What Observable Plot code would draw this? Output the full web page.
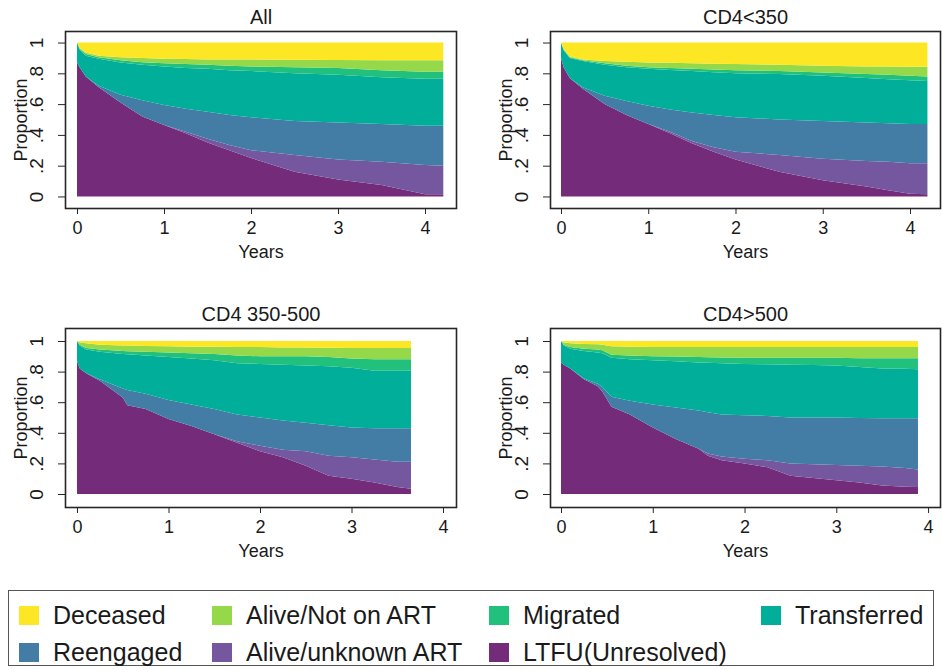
<!DOCTYPE html>
<html>
<head>
<meta charset="utf-8">
<script src="https://cdn.jsdelivr.net/npm/d3@7"></script>
<script src="https://cdn.jsdelivr.net/npm/@observablehq/plot@0.6"></script>
<style>
  html, body { margin: 0; padding: 0; background: #fff; }
  #wrap { position: relative; width: 943px; height: 670px; overflow: hidden; font-family: "Liberation Sans", Arial, sans-serif; color: #1a1a1a; }
  .panel { position: absolute; }
  #legend { position: absolute; left: 8px; top: 590px; width: 926px; height: 76px; border: 1px solid #555; box-sizing: border-box; }
  .item { position: absolute; display: flex; align-items: center; font-size: 25px; line-height: 1; white-space: nowrap; }
  .sw { width: 20px; height: 19px; margin-right: 14px; }
</style>
</head>
<body>
<div id="wrap">
  <div id="legend"></div>
</div>
<script>
// ---- states (legend order) and colours ----
const states = ["Deceased", "Alive/Not on ART", "Migrated", "Transferred", "Reengaged", "Alive/unknown ART", "LTFU(Unresolved)"];
const colors = ["#fde725", "#95d84a", "#22c07d", "#00ae9a", "#437da5", "#74579f", "#742b79"];
// stacking order, bottom to top
const stackOrder = ["LTFU(Unresolved)", "Alive/unknown ART", "Reengaged", "Transferred", "Migrated", "Alive/Not on ART", "Deceased"];

const xTicks = [0, 1, 2, 3, 4];
const yTicks = [0, 0.2, 0.4, 0.6, 0.8, 1];

// ---- data: years, and cumulative upper edge of each state (bottom to top: LTFU, Alive/unknown, Reengaged, Transferred, Migrated, Alive/Not on ART, Deceased) ----
const allYears = [0, 0.03, 0.1, 0.25, 0.5, 0.75, 1, 1.25, 1.5, 1.75, 2, 2.5, 3, 3.5, 4, 4.21];
const allUpper = [
  [0.87, 0.84, 0.78, 0.71, 0.61, 0.52, 0.465, 0.41, 0.35, 0.30, 0.25, 0.16, 0.11, 0.075, 0.015, 0.015],
  [0.87, 0.84, 0.78, 0.71, 0.61, 0.52, 0.465, 0.42, 0.375, 0.335, 0.30, 0.27, 0.24, 0.225, 0.205, 0.20],
  [0.87, 0.84, 0.78, 0.72, 0.66, 0.625, 0.595, 0.57, 0.55, 0.53, 0.515, 0.49, 0.48, 0.47, 0.46, 0.46],
  [1, 0.955, 0.915, 0.895, 0.87, 0.855, 0.845, 0.835, 0.83, 0.82, 0.815, 0.80, 0.79, 0.775, 0.765, 0.765],
  [1, 0.96, 0.925, 0.905, 0.885, 0.872, 0.865, 0.86, 0.855, 0.85, 0.845, 0.84, 0.835, 0.82, 0.81, 0.81],
  [1, 0.965, 0.935, 0.915, 0.905, 0.9, 0.895, 0.893, 0.89, 0.89, 0.89, 0.888, 0.886, 0.885, 0.885, 0.885],
  [1, 1, 1, 1, 1, 1, 1, 1, 1, 1, 1, 1, 1, 1, 1, 1]
];

const lowYears = [0, 0.03, 0.1, 0.25, 0.5, 0.75, 1, 1.25, 1.5, 1.75, 2, 2.5, 3, 3.5, 3.75, 4, 4.2];
const lowUpper = [
  [0.90, 0.84, 0.77, 0.70, 0.60, 0.53, 0.47, 0.41, 0.345, 0.29, 0.24, 0.16, 0.105, 0.065, 0.04, 0.017, 0.015],
  [0.90, 0.84, 0.77, 0.70, 0.60, 0.53, 0.47, 0.42, 0.36, 0.32, 0.29, 0.27, 0.245, 0.23, 0.225, 0.215, 0.215],
  [0.90, 0.84, 0.77, 0.71, 0.655, 0.62, 0.59, 0.565, 0.545, 0.53, 0.515, 0.50, 0.49, 0.48, 0.475, 0.47, 0.47],
  [1, 0.95, 0.90, 0.88, 0.855, 0.84, 0.83, 0.822, 0.815, 0.807, 0.80, 0.795, 0.785, 0.77, 0.762, 0.755, 0.75],
  [1, 0.955, 0.905, 0.885, 0.865, 0.85, 0.84, 0.835, 0.83, 0.825, 0.82, 0.815, 0.805, 0.795, 0.79, 0.785, 0.78],
  [1, 0.96, 0.91, 0.89, 0.88, 0.875, 0.87, 0.868, 0.865, 0.862, 0.86, 0.855, 0.85, 0.845, 0.844, 0.843, 0.843],
  [1, 1, 1, 1, 1, 1, 1, 1, 1, 1, 1, 1, 1, 1, 1, 1, 1]
];

const midYears = [0, 0.03, 0.1, 0.25, 0.5, 0.55, 0.75, 1, 1.25, 1.5, 1.75, 2, 2.25, 2.5, 2.75, 3, 3.25, 3.5, 3.65];
const midUpper = [
  [0.87, 0.82, 0.79, 0.74, 0.63, 0.58, 0.555, 0.49, 0.445, 0.39, 0.335, 0.28, 0.24, 0.185, 0.12, 0.10, 0.075, 0.045, 0.035],
  [0.87, 0.82, 0.79, 0.74, 0.63, 0.58, 0.555, 0.49, 0.445, 0.39, 0.345, 0.315, 0.29, 0.28, 0.25, 0.24, 0.225, 0.21, 0.21],
  [0.87, 0.82, 0.79, 0.75, 0.69, 0.68, 0.655, 0.615, 0.585, 0.555, 0.52, 0.50, 0.48, 0.465, 0.45, 0.435, 0.43, 0.43, 0.43],
  [1, 0.97, 0.945, 0.93, 0.915, 0.913, 0.905, 0.895, 0.885, 0.875, 0.855, 0.85, 0.845, 0.84, 0.835, 0.825, 0.805, 0.805, 0.805],
  [1, 0.975, 0.955, 0.945, 0.935, 0.933, 0.93, 0.925, 0.92, 0.915, 0.905, 0.90, 0.90, 0.90, 0.895, 0.885, 0.88, 0.88, 0.88],
  [1, 0.99, 0.985, 0.975, 0.97, 0.97, 0.968, 0.965, 0.963, 0.962, 0.96, 0.96, 0.958, 0.957, 0.956, 0.955, 0.955, 0.955, 0.955],
  [1, 1, 1, 1, 1, 1, 1, 1, 1, 1, 1, 1, 1, 1, 1, 1, 1, 1, 1]
];

const highYears = [0, 0.03, 0.1, 0.25, 0.4, 0.45, 0.55, 0.75, 1, 1.25, 1.5, 1.6, 1.75, 2, 2.25, 2.5, 2.75, 3, 3.25, 3.5, 3.75, 3.89];
const highUpper = [
  [0.86, 0.845, 0.82, 0.75, 0.705, 0.67, 0.57, 0.52, 0.435, 0.36, 0.295, 0.25, 0.22, 0.20, 0.175, 0.12, 0.105, 0.09, 0.075, 0.055, 0.048, 0.045],
  [0.86, 0.845, 0.82, 0.75, 0.705, 0.67, 0.57, 0.52, 0.435, 0.36, 0.295, 0.265, 0.245, 0.23, 0.22, 0.20, 0.195, 0.19, 0.185, 0.18, 0.17, 0.16],
  [0.86, 0.845, 0.82, 0.755, 0.72, 0.70, 0.635, 0.61, 0.585, 0.565, 0.545, 0.535, 0.52, 0.515, 0.51, 0.50, 0.50, 0.50, 0.497, 0.495, 0.495, 0.495],
  [1, 0.97, 0.95, 0.935, 0.925, 0.92, 0.89, 0.88, 0.875, 0.868, 0.86, 0.858, 0.855, 0.85, 0.848, 0.845, 0.843, 0.84, 0.83, 0.82, 0.818, 0.815],
  [1, 0.975, 0.96, 0.95, 0.945, 0.94, 0.91, 0.905, 0.90, 0.898, 0.895, 0.893, 0.892, 0.89, 0.89, 0.89, 0.89, 0.89, 0.888, 0.887, 0.887, 0.887],
  [1, 0.99, 0.985, 0.98, 0.978, 0.975, 0.965, 0.962, 0.96, 0.96, 0.96, 0.96, 0.96, 0.96, 0.96, 0.96, 0.96, 0.96, 0.96, 0.96, 0.96, 0.96],
  [1, 1, 1, 1, 1, 1, 1, 1, 1, 1, 1, 1, 1, 1, 1, 1, 1, 1, 1, 1, 1, 1]
];

const panels = [
  {title: "All", years: allYears, upper: allUpper, left: 0, top: 0, width: 470, mR: 14, mT: 31, mB: 62, xDom: [-0.138, 4.356], yDom: [-0.075, 1.075]},
  {title: "CD4<350", years: lowYears, upper: lowUpper, left: 485, top: 0, width: 458, mR: 3, mT: 31, mB: 62, xDom: [-0.126, 4.344], yDom: [-0.075, 1.075]},
  {title: "CD4 350-500", years: midYears, upper: midUpper, left: 0, top: 295, width: 470, mR: 14, mT: 33, mB: 58, xDom: [-0.131, 4.142], yDom: [-0.085, 1.085]},
  {title: "CD4>500", years: highYears, upper: highUpper, left: 485, top: 295, width: 458, mR: 3, mT: 33, mB: 58, xDom: [-0.12, 4.13], yDom: [-0.085, 1.085]}
];

const yFmt = d => d === 0 ? "0" : d === 1 ? "1" : d3.format(".1f")(d).replace(/^0/, "");

function buildRows(years, upper) {
  const rows = [];
  stackOrder.forEach((state, k) => {
    years.forEach((t, i) => {
      rows.push({t, state, lo: k === 0 ? 0 : upper[k - 1][i], hi: upper[k][i]});
    });
  });
  return rows;
}

const wrap = document.getElementById("wrap");
for (const p of panels) {
  const rows = buildRows(p.years, p.upper);
  const chart = Plot.plot({
    width: p.width,
    height: 270,
    marginLeft: 65,
    marginRight: p.mR,
    marginTop: p.mT,
    marginBottom: p.mB,
    style: {fontFamily: "'Liberation Sans', Arial, sans-serif", fontSize: "18px", color: "#1a1a1a", background: "transparent", overflow: "visible"},
    x: {domain: p.xDom},
    y: {domain: p.yDom},
    color: {domain: states, range: colors},
    marks: [
      Plot.areaY(rows, {x: "t", y1: "lo", y2: "hi", z: "state", fill: "state", curve: "linear"}),
      Plot.frame({stroke: "#262626", strokeWidth: 1.6}),
      Plot.axisX({ticks: xTicks, tickFormat: d => String(d), tickSize: 6, tickPadding: 7, label: null, stroke: "#262626", fontSize: 18}),
      Plot.axisY({ticks: yTicks, tickFormat: () => "", tickSize: 7, label: null, stroke: "#262626"}),
      Plot.text(yTicks, {y: d => d, text: yFmt, frameAnchor: "left", dx: -23, rotate: -90, textAnchor: "middle", lineAnchor: "bottom", fontSize: 19}),
      Plot.text(["Proportion"], {frameAnchor: "left", dx: -39, rotate: -90, textAnchor: "middle", lineAnchor: "bottom", fontSize: 18}),
      Plot.text(["Years"], {frameAnchor: "bottom", dy: 49, textAnchor: "middle", lineAnchor: "bottom", fontSize: 18}),
      Plot.text([p.title], {frameAnchor: "top", dy: -8, textAnchor: "middle", lineAnchor: "bottom", fontSize: 20})
    ]
  });
  const div = document.createElement("div");
  div.className = "panel";
  div.style.left = p.left + "px";
  div.style.top = p.top + "px";
  div.appendChild(chart);
  wrap.appendChild(div);
}

// ---- legend ----
const legendPos = [
  {x: 10, y: 24}, {x: 203, y: 24}, {x: 480, y: 24}, {x: 752, y: 24},
  {x: 10, y: 61}, {x: 203, y: 61}, {x: 480, y: 61}
];
const legend = document.getElementById("legend");
states.forEach((s, i) => {
  const it = document.createElement("div");
  it.className = "item";
  it.style.left = legendPos[i].x + "px";
  it.style.top = (legendPos[i].y - 12) + "px";
  const sw = document.createElement("span");
  sw.className = "sw";
  sw.style.background = colors[i];
  const tx = document.createElement("span");
  tx.textContent = s;
  it.appendChild(sw);
  it.appendChild(tx);
  legend.appendChild(it);
});
</script>
</body>
</html>
